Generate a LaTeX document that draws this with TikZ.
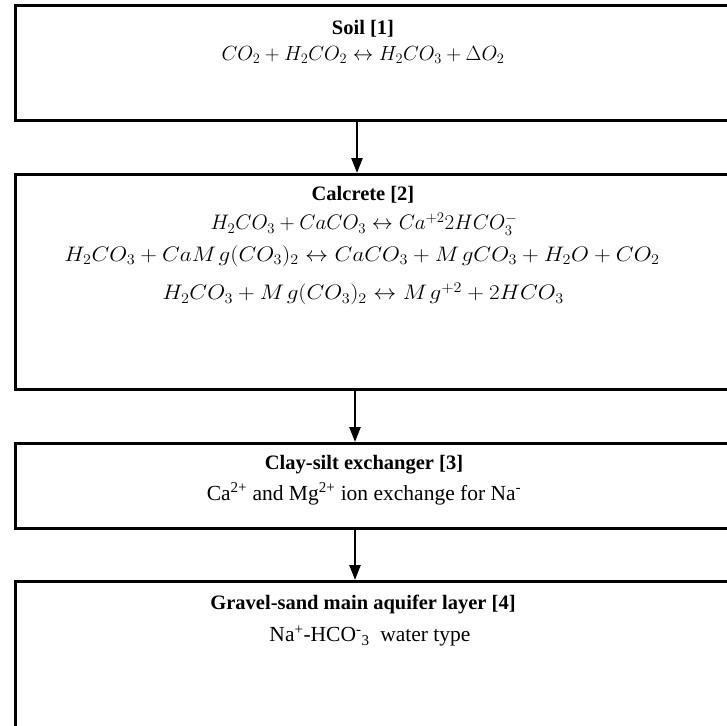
\RequirePackage{fix-cm}
\documentclass[tikz,border=0pt]{standalone}
\usepackage{fontspec}
\usepackage{graphicx}
\setmainfont{Liberation Serif}
\usetikzlibrary{arrows.meta}
\newcommand{\mgx}{M\mkern2mu g}
\tikzset{
  layerbox/.style={draw=black, line width=3pt, fill=white, rectangle, anchor=north west, inner sep=0pt},
  titletext/.style={font=\fontsize{20.5}{24}\selectfont\bfseries, inner sep=0pt},
  eqtext/.style={font=\fontsize{21}{25}\selectfont, inner sep=0pt},
  soileqtext/.style={font=\fontsize{20.5}{24}\selectfont, inner sep=0pt},
  bodytext/.style={font=\fontsize{21.5}{25}\selectfont, inner sep=0pt},
  flow/.style={line width=2.5pt, -{Triangle[width=11pt,length=15pt]}}
}
\begin{document}
\begin{tikzpicture}[x=1pt,y=-1pt]
\useasboundingbox (0,0) rectangle (727,725);
\clip (0,0) rectangle (727,725);
% boxes
\node[layerbox, minimum width=740pt, minimum height=114pt] (soil) at (13.5,4.5) {};
\node[layerbox, minimum width=740pt, minimum height=215pt] (calc) at (13.5,173) {};
\node[layerbox, minimum width=740pt, minimum height=85pt] (clay) at (13.5,442) {};
\node[layerbox, minimum width=740pt, minimum height=200pt] (grav) at (13.5,580) {};
% texts
\node[titletext] (t1) at (363,29) {Soil [1]};
\node[soileqtext] (e1) at (363,55) {$CO_2+H_2CO_2\leftrightarrow H_2CO_3+\Delta O_2$};
\node[titletext] (t2) at (363,195) {Calcrete [2]};
\node[eqtext] (e2a) at (364,224) {$H_2CO_3+CaCO_3\leftrightarrow Ca^{+2}2HCO_3^-$};
\node[eqtext] (e2b) at (362,256) {\scalebox{1.1}[1]{$H_2CO_3+Ca\mgx(CO_3)_2\leftrightarrow CaCO_3+\mgx CO_3+H_2O+CO_2$}};
\node[eqtext] (e2c) at (363,294) {\scalebox{1.1}[1]{$H_2CO_3+\mgx(CO_3)_2\leftrightarrow \mgx^{+2}+2HCO_3$}};
\node[titletext] (t3) at (364,465) {Clay-silt exchanger [3]};
\node[bodytext] (b3) at (364,494) {Ca\textsuperscript{2+} and Mg\textsuperscript{2+} ion exchange for Na\textsuperscript{-}};
\node[titletext] (t4) at (363,604) {Gravel-sand main aquifer layer [4]};
\node[bodytext] (b4) at (370,636) {Na\textsuperscript{+}-HCO\textsuperscript{-}\textsubscript{3}\ \ water type};
% arrows
\coordinate (ax1) at (357,0);
\coordinate (ax2) at (355,0);
\draw[flow] (soil.south -| ax1) -- (calc.north -| ax1);
\draw[flow] (calc.south -| ax2) -- (clay.north -| ax2);
\draw[flow] (clay.south -| ax2) -- (grav.north -| ax2);
\end{tikzpicture}
\end{document}
